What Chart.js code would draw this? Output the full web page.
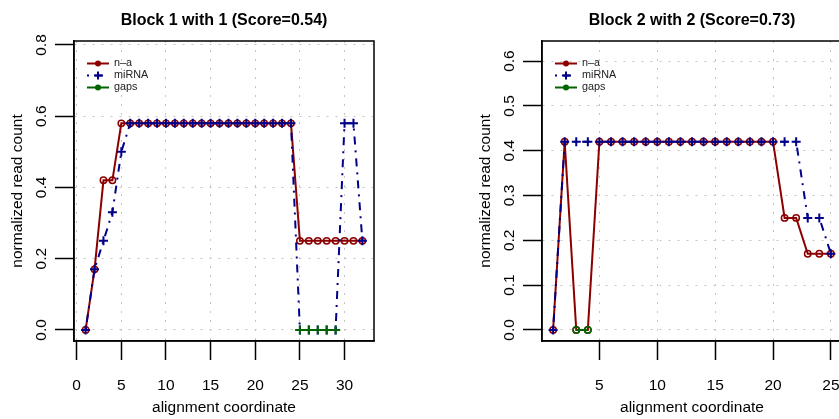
<!DOCTYPE html>
<html>
<head>
<meta charset="utf-8">
<script src="https://cdn.jsdelivr.net/npm/chart.js@4"></script>
<style>
html, body { margin: 0; padding: 0; background: #fff; overflow: hidden; width: 839px; height: 419px; }
.panel { position: absolute; top: 0; width: 467px; height: 419px; }
</style>
</head>
<body>
<div class="panel" style="left:0"><canvas id="block1" width="467" height="419"></canvas></div>
<div class="panel" style="left:468px"><canvas id="block2" width="467" height="419"></canvas></div>
<script>
// ── Block 1 data ──
var b1Coord  = [1,2,3,4,5,6,7,8,9,10,11,12,13,14,15,16,17,18,19,20,21,22,23,24,25,26,27,28,29,30,31,32];
var b1Na     = [0,0.17,0.42,0.42,0.58,0.58,0.58,0.58,0.58,0.58,0.58,0.58,0.58,0.58,0.58,0.58,0.58,0.58,0.58,0.58,0.58,0.58,0.58,0.58,0.25,0.25,0.25,0.25,0.25,0.25,0.25,0.25];
var b1Mirna  = [0,0.17,0.25,0.33,0.5,0.58,0.58,0.58,0.58,0.58,0.58,0.58,0.58,0.58,0.58,0.58,0.58,0.58,0.58,0.58,0.58,0.58,0.58,0.58,0,0,0,0,0,0.58,0.58,0.25];
var b1GapCoord = [25,26,27,28,29];
var b1GapVal   = [0,0,0,0,0];
var b1XTicks = [0,5,10,15,20,25,30];
var b1YTicks = [0,0.2,0.4,0.6,0.8];

// ── Block 2 data ──
var b2Coord  = [1,2,3,4,5,6,7,8,9,10,11,12,13,14,15,16,17,18,19,20,21,22,23,24,25];
var b2Na     = [0,0.42,0,0,0.42,0.42,0.42,0.42,0.42,0.42,0.42,0.42,0.42,0.42,0.42,0.42,0.42,0.42,0.42,0.42,0.25,0.25,0.17,0.17,0.17];
var b2Mirna  = [0,0.42,0.42,0.42,0.42,0.42,0.42,0.42,0.42,0.42,0.42,0.42,0.42,0.42,0.42,0.42,0.42,0.42,0.42,0.42,0.42,0.42,0.25,0.25,0.17];
var b2GapCoord = [3,4];
var b2GapVal   = [0,0];
var b2XTicks = [5,10,15,20,25];
var b2YTicks = [0,0.1,0.2,0.3,0.4,0.5,0.6];

var RED = '#8B0000', BLUE = '#00008B', GREEN = '#006400';
var FONT = '"Liberation Sans", Arial, Helvetica, sans-serif';
var DOTDASH = [2, 6, 8, 6];

function pts(xs, ys) {
    return xs.map(function(x, i) { return { x: x, y: ys[i] }; });
}

// box, tick labels, axis titles and legend in R style
var rFrame = {
    id: 'rFrame',
    afterDraw: function(chart) {
        var ctx = chart.ctx, a = chart.chartArea;
        var sx = chart.scales.x, sy = chart.scales.y;
        ctx.save();
        ctx.setLineDash([]);
        ctx.strokeStyle = '#000';
        ctx.lineWidth = 1.5;
        ctx.strokeRect(a.left, a.top, a.right - a.left, a.bottom - a.top);

        ctx.fillStyle = '#000';
        ctx.font = '15.5px ' + FONT;
        ctx.textAlign = 'center';
        ctx.textBaseline = 'middle';
        sx.ticks.forEach(function(t) {
            ctx.fillText(String(t.value), sx.getPixelForValue(t.value), a.bottom + 45);
        });
        ctx.fillText('alignment coordinate', (a.left + a.right) / 2, a.bottom + 67);
        sy.ticks.forEach(function(t) {
            ctx.save();
            ctx.translate(a.left - 32, sy.getPixelForValue(t.value));
            ctx.rotate(-Math.PI / 2);
            ctx.fillText(t.value.toFixed(1), 0, 0);
            ctx.restore();
        });
        ctx.save();
        ctx.translate(a.left - 56, (a.top + a.bottom) / 2);
        ctx.rotate(-Math.PI / 2);
        ctx.fillText('normalized read count', 0, 0);
        ctx.restore();

        // legend
        var items = [
            { label: 'n\u2013a', color: RED, dash: [], mark: 'dot' },
            { label: 'miRNA', color: BLUE, dash: DOTDASH, mark: 'plus' },
            { label: 'gaps', color: GREEN, dash: [], mark: 'dot' }
        ];
        ctx.font = '10.8px ' + FONT;
        ctx.textAlign = 'left';
        items.forEach(function(it, i) {
            var y = a.top + 22.5 + i * 12;
            var x0 = a.left + 13, x1 = a.left + 35, xm = (x0 + x1) / 2;
            ctx.strokeStyle = it.color;
            ctx.lineWidth = 2;
            ctx.setLineDash(it.dash);
            ctx.beginPath(); ctx.moveTo(x0, y); ctx.lineTo(x1, y); ctx.stroke();
            ctx.setLineDash([]);
            if (it.mark === 'dot') {
                ctx.fillStyle = it.color;
                ctx.beginPath(); ctx.arc(xm, y, 3, 0, Math.PI * 2); ctx.fill();
            } else {
                ctx.beginPath();
                ctx.moveTo(xm - 4, y); ctx.lineTo(xm + 4, y);
                ctx.moveTo(xm, y - 4); ctx.lineTo(xm, y + 4);
                ctx.stroke();
            }
            ctx.fillStyle = '#222';
            ctx.fillText(it.label, a.left + 40, y);
        });
        ctx.restore();
    }
};

function axisOpts(ticksArr, min, max, fitProp, fitVal) {
    return {
        type: 'linear', min: min, max: max,
        afterBuildTicks: function(s) { s.ticks = ticksArr.map(function(v) { return { value: v }; }); },
        afterFit: function(s) { s[fitProp] = fitVal; },
        ticks: { display: false },
        grid: { color: '#c4c4c4', lineWidth: 1, tickColor: '#000', tickLength: 19, tickWidth: 1.5, tickBorderDash: [] },
        border: { display: true, color: '#000', width: 1.5, dash: [2, 7] }
    };
}

function makeChart(id, title, coord, na, mirna, gapCoord, gapVal, gapStyle, xTicks, yTicks, xr, yr) {
    new Chart(document.getElementById(id).getContext('2d'), {
        type: 'line',
        data: {
            datasets: [
                { label: 'n-a', data: pts(coord, na), order: 3, borderColor: RED, borderWidth: 2,
                  pointStyle: 'circle', pointRadius: 3.2, pointBorderWidth: 1.5, pointBorderColor: RED,
                  pointBackgroundColor: 'rgba(0,0,0,0)', tension: 0 },
                { label: 'miRNA', data: pts(coord, mirna), order: 2, borderColor: BLUE, borderWidth: 2,
                  borderDash: DOTDASH, pointStyle: 'cross', pointRadius: 4.5, pointBorderWidth: 2,
                  pointBorderColor: BLUE, tension: 0 },
                { label: 'gaps', data: pts(gapCoord, gapVal), order: 1, borderColor: GREEN, borderWidth: 2,
                  pointStyle: gapStyle, pointRadius: gapStyle === 'cross' ? 4.5 : 3.2, pointBorderWidth: gapStyle === 'cross' ? 2 : 1.5,
                  pointBorderColor: GREEN, pointBackgroundColor: 'rgba(0,0,0,0)', tension: 0 }
            ]
        },
        options: {
            responsive: false, animation: false, devicePixelRatio: 1,
            layout: { padding: { top: 0, left: 0, right: 93, bottom: 0 } },
            plugins: {
                legend: { display: false },
                tooltip: { enabled: false },
                title: { display: true, text: title, fullSize: false, color: '#000',
                         font: { family: FONT, size: 16, weight: 'bold' }, padding: { top: 11.4, bottom: 10.4 } }
            },
            scales: {
                x: axisOpts(xTicks, xr[0], xr[1], 'height', 78),
                y: axisOpts(yTicks, yr[0], yr[1], 'width', 74)
            }
        },
        plugins: [rFrame]
    });
}

makeChart('block1', 'Block 1 with 1 (Score=0.54)', b1Coord, b1Na, b1Mirna, b1GapCoord, b1GapVal, 'cross',
          b1XTicks, b1YTicks, [-0.3, 33.3], [-0.0312, 0.8112]);
makeChart('block2', 'Block 2 with 2 (Score=0.73)', b2Coord, b2Na, b2Mirna, b2GapCoord, b2GapVal, 'circle',
          b2XTicks, b2YTicks, [0.04, 25.96], [-0.0248, 0.6448]);
</script>
</body>
</html>
